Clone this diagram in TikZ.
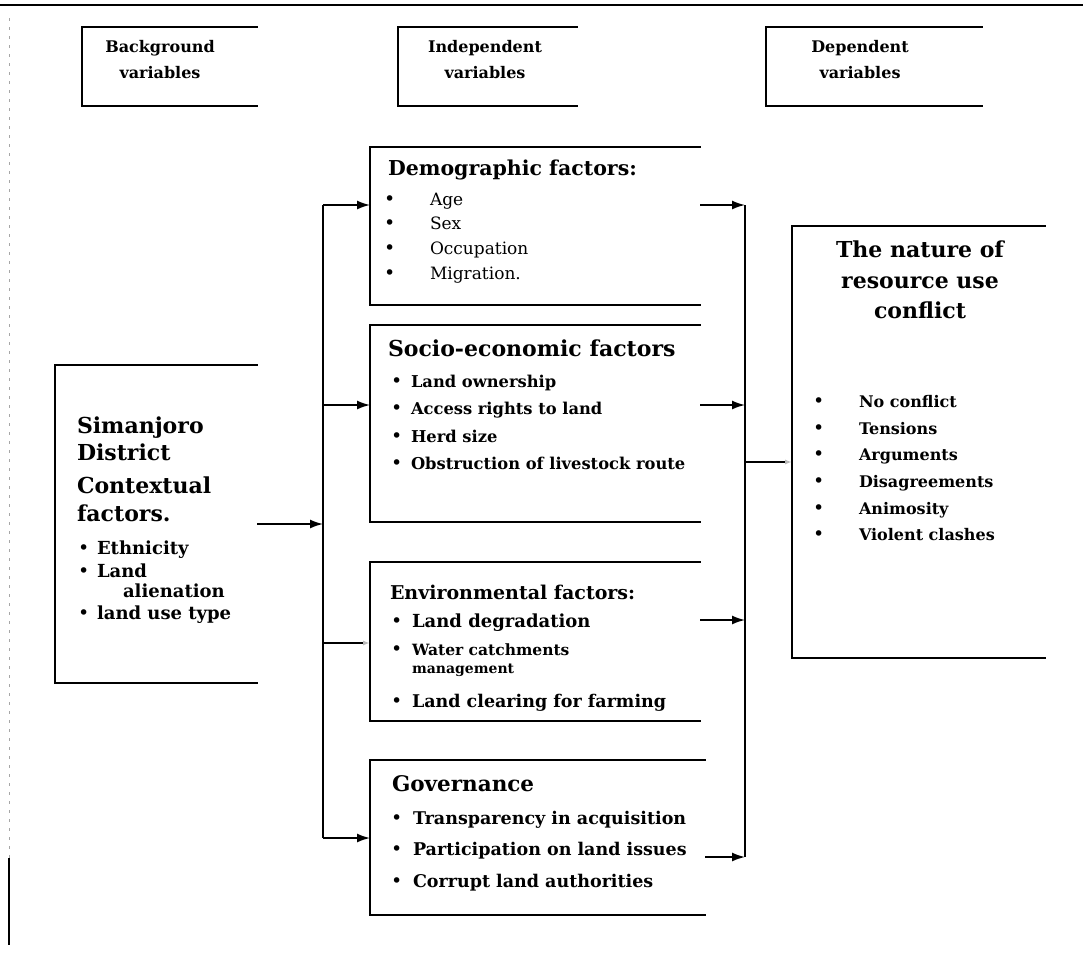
\documentclass[tikz,border=0pt]{standalone}
\usepackage{fontspec}
\setmainfont{DejaVu Serif}
\usetikzlibrary{arrows.meta}
\newcommand\fsz[2]{\fontsize{#1}{#2}\selectfont}
\newcommand\openbox[1]{\draw[boxline] (#1.north east) -- (#1.north west) -- (#1.south west) -- (#1.south east);}
\tikzset{
  boxline/.style={line width=2pt, line cap=rect},
  frame/.style={rectangle, draw=none, inner sep=0pt, outer sep=0pt, anchor=north west},
  conn/.style={line width=1.6pt},
  arr/.style={conn, -{Latex[length=13pt,width=9pt]}},
  faintarr/.style={conn, -{Latex[length=7pt,width=5pt,color=gray!55]}},
  tl/.style={anchor=base west, inner sep=0pt, outer sep=0pt},
  tc/.style={anchor=base, inner sep=0pt, outer sep=0pt},
  hdtxt/.style={tc, font=\fsz{16}{18}\bfseries},
  ttl/.style={tl, font=\fsz{20.5}{22}\bfseries},
  itb/.style={tl, font=\fsz{16}{18}\bfseries},
  itr/.style={tl, font=\fsz{17}{19}},
  bul/.style={tl, font=\fsz{19}{19}},
}
\begin{document}
\begin{tikzpicture}[x=1pt,y=-1pt]
\fill[white] (0,0) rectangle (1083,953);
\useasboundingbox (0,0) rectangle (1083,953);
% page edges
\coordinate (tlA) at (0,5); \coordinate (tlB) at (1083,5);
\draw[line width=2.4pt] (tlA) -- (tlB);
\coordinate (edA) at (9,18); \coordinate (edB) at (9,858); \coordinate (edC) at (9,945);
\draw[gray!70, line width=0.9pt, dash pattern=on 3pt off 6pt] (edA) -- (edB);
\draw[line width=1.4pt] (edB) -- (edC);

% header boxes
\node[frame, minimum width=175pt, minimum height=79pt] (bg) at (82,27) {};
\node[frame, minimum width=179pt, minimum height=79pt] (iv) at (398,27) {};
\node[frame, minimum width=216pt, minimum height=79pt] (dv) at (766,27) {};
\openbox{bg} \openbox{iv} \openbox{dv}
\node[hdtxt] (bgA) at (160,52) {Background};
\node[hdtxt] (bgB) at (160,78) {variables};
\node[hdtxt] (ivA) at (485,52) {Independent};
\node[hdtxt] (ivB) at (485,78) {variables};
\node[hdtxt] (dvA) at (860,52) {Dependent};
\node[hdtxt] (dvB) at (860,78) {variables};

% left box
\node[frame, minimum width=202pt, minimum height=318pt] (ctx) at (55,365) {};
\openbox{ctx}
\node[ttl, font=\fsz{22}{24}\bfseries] (c1) at (77,433) {Simanjoro};
\node[ttl, font=\fsz{22}{24}\bfseries] (c2) at (77,460) {District};
\node[ttl, font=\fsz{22}{24}\bfseries] (c3) at (77,493) {Contextual};
\node[ttl, font=\fsz{22}{24}\bfseries] (c4) at (77,521) {factors.};
\node[bul] (cb1) at (78,554) {•}; \node[itb, font=\fsz{18}{19}\bfseries] (c5) at (97,554) {Ethnicity};
\node[bul] (cb2) at (78,577) {•}; \node[itb, font=\fsz{18}{19}\bfseries] (c6) at (97,577) {Land};
\node[itb, font=\fsz{18}{19}\bfseries] (c7) at (123,597) {alienation};
\node[bul] (cb3) at (78,619) {•}; \node[itb, font=\fsz{18}{19}\bfseries] (c8) at (97,619) {land use type};

% demographic
\node[frame, minimum width=330pt, minimum height=158pt] (demo) at (370,147) {};
\openbox{demo}
\node[ttl] (d0) at (388,175) {Demographic factors:};
\node[bul] (db1) at (384,205) {•}; \node[itr] (d1) at (430,205) {Age};
\node[bul] (db2) at (384,229) {•}; \node[itr] (d2) at (430,229) {Sex};
\node[bul] (db3) at (384,254) {•}; \node[itr] (d3) at (430,254) {Occupation};
\node[bul] (db4) at (384,279) {•}; \node[itr] (d4) at (430,279) {Migration.};

% socio-economic
\node[frame, minimum width=330pt, minimum height=197pt] (soc) at (370,325) {};
\openbox{soc}
\node[ttl, font=\fsz{22}{24}\bfseries] (s0) at (388,356) {Socio-economic factors};
\node[bul] (sb1) at (391,387) {•}; \node[itb, font=\fsz{16.3}{19}\bfseries] (s1) at (411,387) {Land ownership};
\node[bul] (sb2) at (391,414) {•}; \node[itb, font=\fsz{16.3}{19}\bfseries] (s2) at (411,414) {Access rights to land};
\node[bul] (sb3) at (391,442) {•}; \node[itb, font=\fsz{16.3}{19}\bfseries] (s3) at (411,442) {Herd size};
\node[bul] (sb4) at (391,469) {•}; \node[itb, font=\fsz{16.3}{19}\bfseries] (s4) at (411,469) {Obstruction of livestock route};

% environmental
\node[frame, minimum width=330pt, minimum height=159pt] (env) at (370,562) {};
\openbox{env}
\node[ttl, font=\fsz{19}{21}\bfseries] (e0) at (390,599) {Environmental factors:};
\node[bul] (eb1) at (391,627) {•}; \node[itb, font=\fsz{18}{20}\bfseries] (e1) at (412,627) {Land degradation};
\node[bul] (eb2) at (391,655) {•}; \node[itb, font=\fsz{15.5}{17}\bfseries] (e2) at (412,655) {Water catchments};
\node[itb, font=\fsz{14}{16}\bfseries] (e3) at (412,673) {management};
\node[bul] (eb3) at (391,707) {•}; \node[itb, font=\fsz{17.5}{20}\bfseries] (e4) at (412,707) {Land clearing for farming};

% governance
\node[frame, minimum width=335pt, minimum height=155pt] (gov) at (370,760) {};
\openbox{gov}
\node[ttl, font=\fsz{21.5}{24}\bfseries] (g0) at (392,791) {Governance};
\node[bul] (gb1) at (391,824) {•}; \node[itb, font=\fsz{17.5}{20}\bfseries] (g1) at (413,824) {Transparency in acquisition};
\node[bul] (gb2) at (391,855) {•}; \node[itb, font=\fsz{17.5}{20}\bfseries] (g2) at (413,855) {Participation on land issues};
\node[bul] (gb3) at (391,887) {•}; \node[itb, font=\fsz{17.5}{20}\bfseries] (g3) at (413,887) {Corrupt land authorities};

% right box
\node[frame, minimum width=253pt, minimum height=432pt] (res) at (792,226) {};
\openbox{res}
\node[tc, font=\fsz{22}{24}\bfseries] (r1) at (920,257) {The nature of};
\node[tc, font=\fsz{22}{24}\bfseries] (r2) at (920,288) {resource use};
\node[tc, font=\fsz{22}{24}\bfseries] (r3) at (920,318) {conflict};
\node[bul] (rb1) at (813,407) {•}; \node[itb] (rr1) at (859,407) {No conflict};
\node[bul] (rb2) at (813,434) {•}; \node[itb] (rr2) at (859,434) {Tensions};
\node[bul] (rb3) at (813,460) {•}; \node[itb] (rr3) at (859,460) {Arguments};
\node[bul] (rb4) at (813,487) {•}; \node[itb] (rr4) at (859,487) {Disagreements};
\node[bul] (rb5) at (813,514) {•}; \node[itb] (rr5) at (859,514) {Animosity};
\node[bul] (rb6) at (813,540) {•}; \node[itb] (rr6) at (859,540) {Violent clashes};

% left trunk
\coordinate (jL) at (323,524);
\coordinate (tT) at (323,205);
\coordinate (tS) at (323,405);
\coordinate (tE) at (323,643);
\coordinate (tB) at (323,838);
\draw[arr] (ctx.east) -- (jL);
\draw[conn] (tT) -- (tB);
\draw[arr] (tT) -- (tT -| demo.west);
\draw[arr] (tS) -- (tS -| soc.west);
\draw[faintarr] (tE) -- (tE -| env.west);
\draw[arr] (tB) -- (tB -| gov.west);

% right trunk
\coordinate (rT) at (745,205);
\coordinate (rS) at (745,405);
\coordinate (rE) at (745,620);
\coordinate (rB) at (745,857);
\coordinate (rJ) at (745,462);
\draw[conn] (rT) -- (rB);
\draw[arr] (demo.east |- rT) -- (rT);
\draw[arr] (soc.east |- rS) -- (rS);
\draw[arr] (env.east |- rE) -- (rE);
\draw[arr] (gov.east |- rB) -- (rB);
\draw[faintarr] (rJ) -- (rJ -| res.west);
\end{tikzpicture}
\end{document}
